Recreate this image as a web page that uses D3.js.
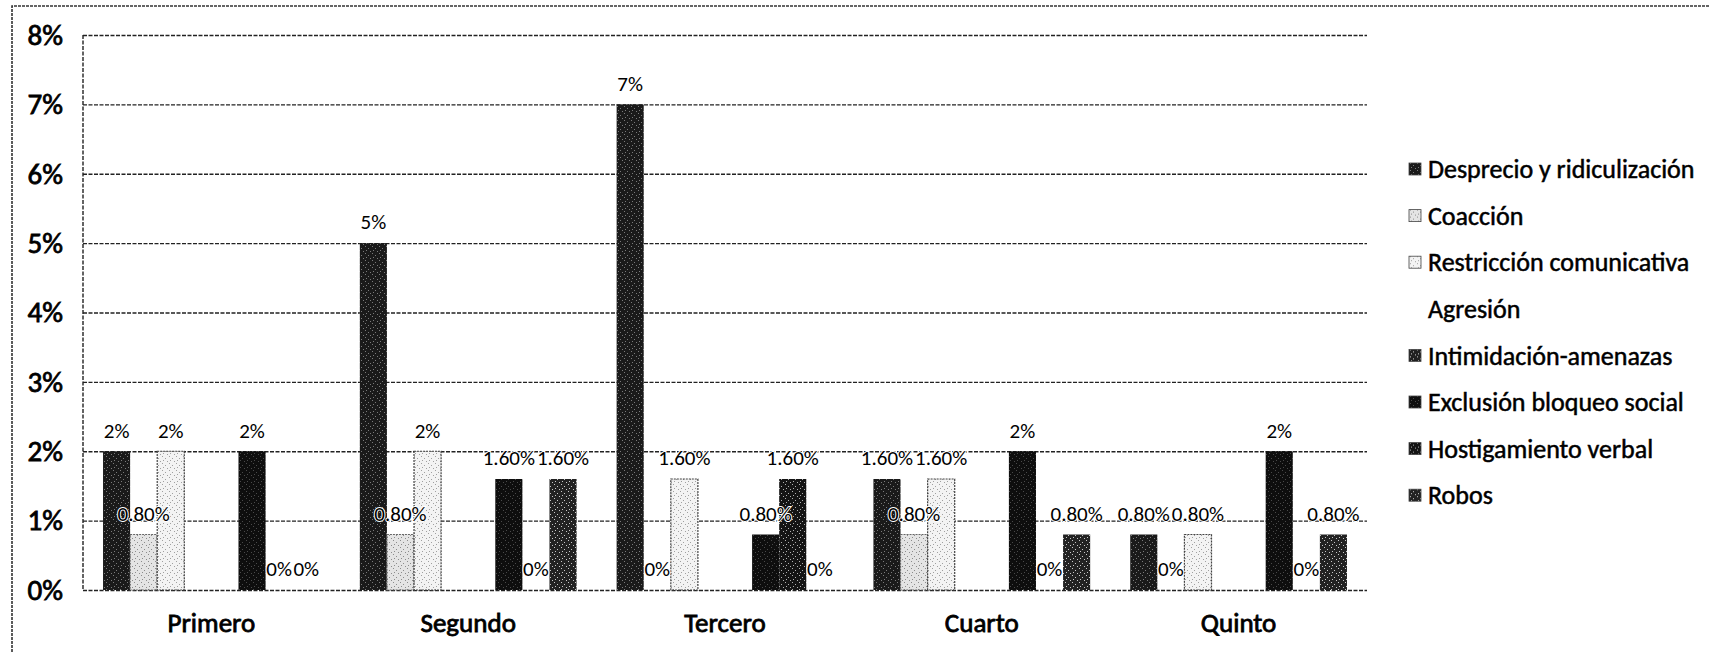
<!DOCTYPE html>
<html>
<head>
<meta charset="utf-8">
<script src="https://cdn.jsdelivr.net/npm/d3@7"></script>
<style>
  body { margin: 0; background: #fff; }
  text { font-family: Calibri, Carlito, Lato, sans-serif; fill: #000; }
</style>
</head>
<body>
<div id="chart"></div>
<script>
const categories = ['Primero', 'Segundo', 'Tercero', 'Cuarto', 'Quinto'];
const seriesNames = [
  'Desprecio y ridiculización',
  'Coacción',
  'Restricción comunicativa',
  'Agresión',
  'Intimidación-amenazas',
  'Exclusión bloqueo social',
  'Hostigamiento verbal',
  'Robos'
];
// values in %, null = no bar, no label
const desprecio = [2, 5, 7, 1.6, 0.8];
const coaccion = [0.8, 0.8, 0, 0.8, 0];
const restriccion = [2, 2, 1.6, 1.6, 0.8];
const agresion = [null, null, null, null, null];
const intimidacion = [null, null, null, null, null];
const exclusion = [2, 1.6, 0.8, 2, 2];
const hostigamiento = [0, 0, 1.6, 0, 0];
const robos = [0, 1.6, 0, 0.8, 0.8];
const yTicks = [0, 1, 2, 3, 4, 5, 6, 7, 8];

const seriesValues = [desprecio, coaccion, restriccion, agresion, intimidacion, exclusion, hostigamiento, robos];

const width = 1710;
const height = 652;
const margin = { top: 35, right: 345, bottom: 62, left: 83 };

// fill look of each series (scanned pattern fills)
const looks = [
  { base: '#1a1a1a', speck: '#7a7a7a', stroke: 'none' },
  { base: '#e4e4e4', speck: '#8c8c8c', stroke: '#666' },
  { base: '#f3f3f3', speck: '#a0a0a0', stroke: '#444' },
  null,
  { base: '#202020', speck: '#d0d0d0', stroke: 'none' },
  { base: '#0e0e0e', speck: '#4a4a4a', stroke: 'none' },
  { base: '#141414', speck: '#b0b0b0', stroke: 'none' },
  { base: '#222222', speck: '#c8c8c8', stroke: 'none' }
];

const svg = d3.select('#chart')
  .append('svg')
  .attr('width', width)
  .attr('height', height);

const defs = svg.append('defs');
looks.forEach(function(lk, i) {
  if (!lk) return;
  const p = defs.append('pattern')
    .attr('id', 'pat' + i)
    .attr('patternUnits', 'userSpaceOnUse')
    .attr('width', 7)
    .attr('height', 7);
  p.append('rect').attr('width', 7).attr('height', 7).attr('fill', lk.base);
  [[1, 1], [4, 3], [2, 5], [6, 6]].forEach(function(s) {
    p.append('rect').attr('x', s[0]).attr('y', s[1]).attr('width', 1).attr('height', 1).attr('fill', lk.speck);
  });
});

const plotRight = width - margin.right + 2;

const x0 = d3.scaleBand()
  .domain(categories)
  .range([margin.left, plotRight])
  .paddingInner(0.156)
  .paddingOuter(0.078);

const x1 = d3.scaleBand()
  .domain(d3.range(seriesNames.length))
  .range([0, x0.bandwidth()]);

const y = d3.scaleLinear()
  .domain([0, 8])
  .range([height - margin.bottom, margin.top]);

// outer chart border (only top and left survive in the scan)
svg.append('path')
  .attr('d', 'M12,652 L12,6 L1710,6')
  .attr('fill', 'none')
  .attr('stroke', '#333')
  .attr('stroke-width', 1.6)
  .attr('stroke-dasharray', '3,1');

// gridlines
svg.append('g')
  .attr('transform', 'translate(' + margin.left + ',0)')
  .call(d3.axisLeft(y).tickValues(yTicks).tickSize(-(plotRight - margin.left)).tickFormat(''))
  .call(g => g.select('.domain').remove())
  .selectAll('line')
  .attr('stroke', '#222')
  .attr('stroke-width', 1.4)
  .attr('stroke-dasharray', '4,1.5');

// left axis line
svg.append('line')
  .attr('x1', margin.left).attr('x2', margin.left)
  .attr('y1', y(8)).attr('y2', y(0))
  .attr('stroke', '#222')
  .attr('stroke-width', 1.4)
  .attr('stroke-dasharray', '4,1.5');

// y tick labels
svg.append('g')
  .attr('transform', 'translate(63,0)')
  .call(d3.axisLeft(y).tickValues(yTicks).tickSize(0).tickPadding(0).tickFormat(d => d + '%'))
  .call(g => g.select('.domain').remove())
  .selectAll('text')
  .style('font-size', '29px')
  .style('font-family', 'Calibri, Carlito, Lato, sans-serif')
  .attr('stroke', '#000')
  .attr('stroke-width', 0.8);

// category labels
svg.append('g')
  .attr('transform', 'translate(0,' + (y(0) + 33) + ')')
  .call(d3.axisBottom(x0).tickSize(0).tickPadding(0))
  .call(g => g.select('.domain').remove())
  .selectAll('text')
  .attr('dy', '0.35em')
  .style('font-size', '27px')
  .style('font-family', 'Calibri, Carlito, Lato, sans-serif')
  .attr('stroke', '#000')
  .attr('stroke-width', 0.8);

// bars
const cells = [];
categories.forEach(function(c, ci) {
  seriesValues.forEach(function(vals, si) {
    if (vals[ci] !== null) cells.push({ cat: c, s: si, v: vals[ci] });
  });
});

svg.append('g').selectAll('rect')
  .data(cells.filter(d => d.v > 0))
  .join('rect')
  .attr('x', d => x0(d.cat) + x1(d.s))
  .attr('y', d => y(d.v))
  .attr('width', x1.bandwidth())
  .attr('height', d => y(0) - y(d.v))
  .attr('fill', d => 'url(#pat' + d.s + ')')
  .attr('stroke', d => looks[d.s].stroke)
  .attr('stroke-width', 1.2)
  .attr('stroke-dasharray', '2,1');

// data labels
function fmt(v) {
  return Number.isInteger(v) ? v + '%' : v.toFixed(2) + '%';
}
svg.append('g').selectAll('text')
  .data(cells)
  .join('text')
  .attr('x', d => x0(d.cat) + x1(d.s) + x1.bandwidth() / 2)
  .attr('y', d => y(d.v) - 21)
  .attr('dy', '0.35em')
  .attr('text-anchor', 'middle')
  .style('font-size', '21px')
  .style('paint-order', 'stroke')
  .attr('stroke', '#fff')
  .attr('stroke-width', 2)
  .text(d => fmt(d.v));

// legend
const legend = svg.append('g').attr('transform', 'translate(1409,169)');
const rows = legend.selectAll('g')
  .data(seriesNames)
  .join('g')
  .attr('transform', (d, i) => 'translate(0,' + (i * 46.6) + ')');
rows.filter((d, i) => looks[i] !== null)
  .append('rect')
  .attr('x', 0).attr('y', -6)
  .attr('width', 12).attr('height', 12)
  .attr('fill', d => 'url(#pat' + seriesNames.indexOf(d) + ')')
  .attr('stroke', '#444')
  .attr('stroke-width', 0.8);
rows.append('text')
  .attr('x', 19)
  .attr('dy', '0.35em')
  .style('font-size', '26px')
  .attr('stroke', '#000')
  .attr('stroke-width', 0.5)
  .text(d => d);
</script>
</body>
</html>
